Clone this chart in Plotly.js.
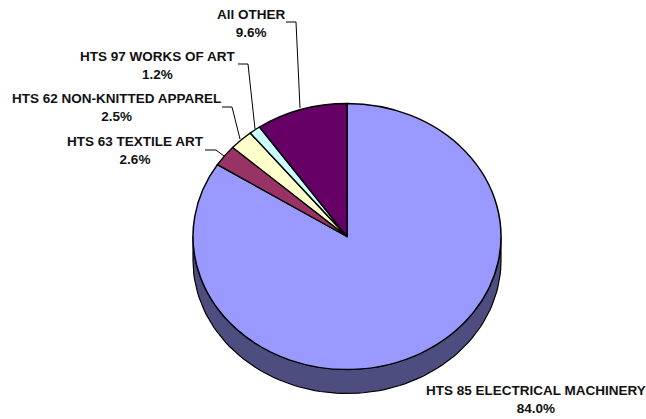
<!DOCTYPE html>
<html><head><meta charset="utf-8">
<script src="https://cdn.plot.ly/plotly-3.0.1.min.js"></script>
<style>html,body{margin:0;padding:0;background:#fff}#c{width:646px;height:419px}</style>
</head><body><div id="c"></div>
<script>
const categories = ["HTS 85 ELECTRICAL MACHINERY","HTS 63 TEXTILE ART","HTS 62 NON-KNITTED APPAREL","HTS 97 WORKS OF ART","All OTHER"];
const shares = [84.0,2.6,2.5,1.2,9.6];
const sliceColors = ["#9999ff","#993366","#ffffcc","#ccffff","#660066"];
const wallColor = "#4d4d80";

const W=646,H=419,cx=347,cy=236.5,rx=154,ry=133,depth=24;
const font={family:"Liberation Sans, Arial, sans-serif",size:13.5,color:"#111111"};
const labelPos=[[536,399],[135,150],[116,107],[158,65],[251,23]];
const leaders=[null,
 [[205,150],[216,150],[224,156]],
 [[222,107],[232,107],[240,139]],
 [[238,64],[248,64],[255,129]],
 [[286,22],[296,22],[300,108]]];

// visible side wall of the tilted pie: lower half of the rim, extruded downwards
const wx=[],wy=[];
for(let d=0;d<=180;d+=2){const a=d*Math.PI/180;wx.push(cx+rx*Math.cos(a));wy.push(cy+ry*Math.sin(a));}
for(let d=180;d>=0;d-=2){const a=d*Math.PI/180;wx.push(cx+rx*Math.cos(a));wy.push(cy+depth+ry*Math.sin(a));}
wx.push(wx[0]);wy.push(wy[0]);

const traces=[
 {type:"scatter",mode:"lines",x:wx,y:wy,fill:"toself",fillcolor:wallColor,line:{color:"#000",width:1.2},hoverinfo:"skip",showlegend:false},
 {type:"pie",labels:categories,values:shares,sort:false,direction:"clockwise",rotation:0,
  textinfo:"none",showlegend:false,marker:{colors:sliceColors,line:{color:"#000",width:1.5}},
  domain:{x:[(cx-rx)/W,(cx+rx)/W],y:[1-(cy+rx)/H,1-(cy-rx)/H]}}
];
const annotations=categories.map((c,i)=>({xref:"x",yref:"y",x:labelPos[i][0],y:labelPos[i][1],
  text:"<b>"+c+"<br>"+shares[i].toFixed(1)+"%</b>",showarrow:false,align:"center",font:font}));
const shapes=[];
leaders.forEach(l=>{if(l)for(let i=0;i<l.length-1;i++)shapes.push({type:"line",xref:"x",yref:"y",
  x0:l[i][0],y0:l[i][1],x1:l[i+1][0],y1:l[i+1][1],line:{color:"#000",width:1}});});

const layout={width:W,height:H,margin:{l:0,r:0,t:0,b:0},paper_bgcolor:"#fff",plot_bgcolor:"#fff",showlegend:false,
 xaxis:{range:[0,W],visible:false,fixedrange:true},yaxis:{range:[H,0],visible:false,fixedrange:true},
 annotations:annotations,shapes:shapes};
const gd=document.getElementById("c");
function tilt(){const p=gd.querySelector(".pielayer");
 if(p)p.setAttribute("transform","translate(0,"+cy+") scale(1,"+(ry/rx)+") translate(0,"+(-cy)+")");}
Plotly.newPlot(gd,traces,layout,{staticPlot:true,displayModeBar:false}).then(()=>{tilt();gd.on("plotly_afterplot",tilt);});
</script></body></html>
